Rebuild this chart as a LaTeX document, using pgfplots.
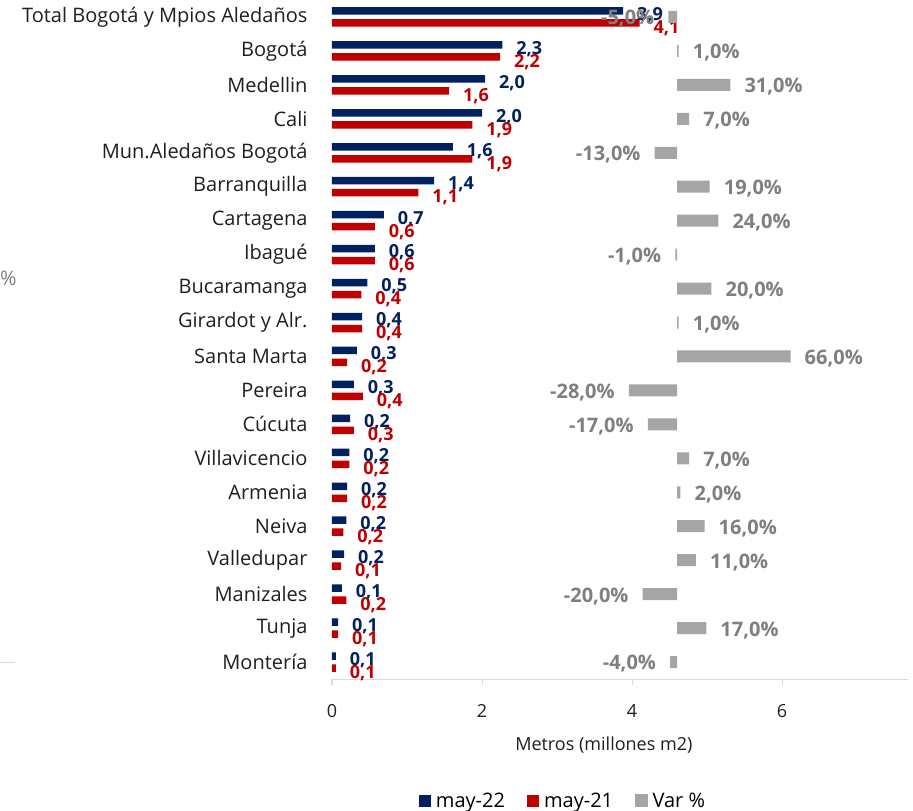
\documentclass[border=0pt]{standalone}
\usepackage{pgfplots}
\usepackage{pgfplotstable}
\pgfplotsset{compat=1.18}
\usepackage{fontspec}
\setmainfont{Open Sans}
\definecolor{c22}{HTML}{002060}
\definecolor{c21}{HTML}{C00000}
\definecolor{cvar}{HTML}{A5A5A5}
\definecolor{cvarl}{HTML}{7F7F7F}
\definecolor{caxis}{HTML}{D9D9D9}
\pgfplotstableread{
y v22 v21 var l22 l21 lvar
19 3.88 4.10 -5 3,9 4,1 -5,0
18 2.27 2.24 1 2,3 2,2 1,0
17 2.04 1.56 31 2,0 1,6 31,0
16 2.00 1.87 7 2,0 1,9 7,0
15 1.61 1.87 -13 1,6 1,9 -13,0
14 1.36 1.15 19 1,4 1,1 19,0
13 0.69 0.57 24 0,7 0,6 24,0
12 0.57 0.57 -1 0,6 0,6 -1,0
11 0.47 0.39 20 0,5 0,4 20,0
10 0.40 0.40 1 0,4 0,4 1,0
9 0.33 0.20 66 0,3 0,2 66,0
8 0.29 0.41 -28 0,3 0,4 -28,0
7 0.24 0.29 -17 0,2 0,3 -17,0
6 0.23 0.23 7 0,2 0,2 7,0
5 0.20 0.20 2 0,2 0,2 2,0
4 0.19 0.15 16 0,2 0,2 16,0
3 0.16 0.12 11 0,2 0,1 11,0
2 0.13 0.19 -20 0,1 0,2 -20,0
1 0.08 0.08 17 0,1 0,1 17,0
0 0.05 0.05 -4 0,1 0,1 -4,0
}\datatable
\begin{document}
\begin{tikzpicture}
\path[use as bounding box] (0pt,0pt) rectangle (913pt,-811pt);
\node[anchor=west, inner sep=0pt, text=cvarl, font=\fontsize{20}{24}\selectfont] at (0pt,-278pt) {\%};
\draw[caxis, line width=1pt] (0pt,-662pt) -- (15pt,-662pt);
\begin{axis}[
  at={(332pt,-679pt)}, anchor=south west, scale only axis,
  width=576pt, height=679pt,
  xmin=0, xmax=7.68, ymin=-0.5, ymax=19.5, enlargelimits=false,
  clip=false,
  xbar, bar width=7.5pt,
  /pgf/number format/assume math mode=true,
  axis x line*=bottom, axis y line*=left,
  y axis line style={draw=none},
  x axis line style={draw=caxis, line width=1pt},
  xtick={0,2,4,6},
  xtick style={draw=caxis, line width=1pt},
  tick align=outside, major tick length=6pt,
  ytick={0,...,19},
  yticklabels={Montería, Tunja, Manizales, Valledupar, Neiva, Armenia, Villavicencio, Cúcuta, Pereira, Santa Marta, Girardot y Alr., Bucaramanga, Ibagué, Cartagena, Barranquilla, Mun.Aledaños Bogotá, Cali, Medellin, Bogotá, Total Bogotá y Mpios Aledaños},
  ytick style={draw=none},
  yticklabel style={font=\fontsize{20}{24}\selectfont, anchor=east, xshift=-15pt, text=black!88},
  xticklabel style={font=\fontsize{18}{22}\selectfont, yshift=-16pt, text=black!88},
  xlabel={Metros (millones m2)},
  every axis x label/.style={at={(axis description cs:0.472,-0.097)}, anchor=center, font=\fontsize{18}{22}\selectfont, text=black!88},
  legend style={at={(axis description cs:0.401,-0.179)}, anchor=center, draw=none, fill=none,
    font=\fontsize{20}{24}\selectfont, legend columns=3,
    /tikz/every even column/.append style={column sep=20pt},
    /tikz/every odd column/.append style={column sep=3pt}},
]
\addplot[fill=c22, draw=none, bar shift=6pt,
  nodes near coords, point meta=explicit symbolic,
  every node near coord/.append style={font=\bfseries\fontsize{18}{21}\selectfont, text=c22, anchor=west, inner xsep=14pt, yshift=-4pt},
  legend image code/.code={\fill[c22] (0pt,-6pt) rectangle (12pt,6pt);}]
  table[x=v22, y=y, meta=l22] {\datatable};
\addplot[fill=c21, draw=none, bar shift=-6pt,
  nodes near coords, point meta=explicit symbolic,
  every node near coord/.append style={font=\bfseries\fontsize{18}{21}\selectfont, text=c21, anchor=west, inner xsep=14pt, yshift=-5pt},
  legend image code/.code={\fill[c21] (0pt,-6pt) rectangle (12pt,6pt);}]
  table[x=v21, y=y, meta=l21] {\datatable};
\addlegendimage{legend image code/.code={\fill[cvar] (0pt,-6pt) rectangle (12pt,6pt);}}
\legend{may-22, may-21, Var \%}
\end{axis}
\begin{axis}[
  at={(332pt,-679pt)}, anchor=south west, scale only axis,
  width=576pt, height=679pt,
  xmin=-200.6, xmax=134.3, ymin=-0.5, ymax=19.5, enlargelimits=false,
  clip=false, hide axis,
  xbar, bar width=12pt,
]
\addplot[fill=cvar, draw=none, bar shift=0pt, forget plot,
  restrict x to domain=0:200,
  nodes near coords={\pgfplotspointmeta\%}, point meta=explicit symbolic,
  every node near coord/.append style={font=\bfseries\fontsize{20}{24}\selectfont, text=cvarl, anchor=west, inner xsep=14pt, yshift=-2pt}]
  table[x=var, y=y, meta=lvar] {\datatable};
\addplot[fill=cvar, draw=none, bar shift=0pt, forget plot,
  restrict x to domain=-200:-0.001,
  nodes near coords={\pgfplotspointmeta\%}, point meta=explicit symbolic,
  every node near coord/.append style={font=\bfseries\fontsize{20}{24}\selectfont, text=cvarl, anchor=east, inner xsep=14pt, yshift=-2pt}]
  table[x=var, y=y, meta=lvar] {\datatable};
\end{axis}
\end{tikzpicture}
\end{document}
